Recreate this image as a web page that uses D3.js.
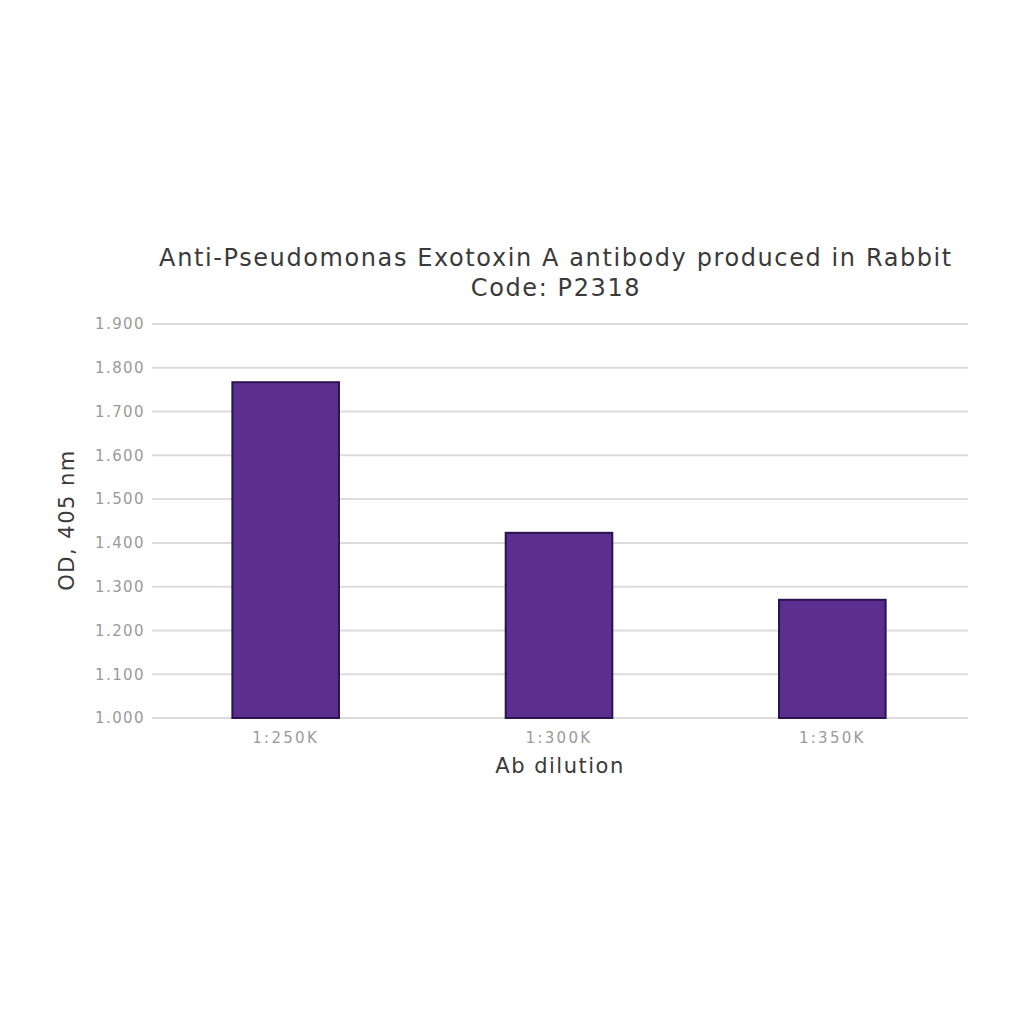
<!DOCTYPE html>
<html lang="en">
<head>
  <meta charset="UTF-8">
  <title>Anti-Pseudomonas Exotoxin A</title>
  <script src="https://d3js.org/d3.v7.min.js"></script>
  <style>
    html, body { width:100%; height:100%; margin:0; background:#fff; }
    svg { display:block; }
    .grid line { stroke:#dcdcdc; stroke-width:2px; }
    .tick text { font:15px "DejaVu Sans", sans-serif; fill:#9a9a9a; letter-spacing:1.4px; }
    .title { font:24px "DejaVu Sans", sans-serif; fill:#3a3a3a; letter-spacing:1.6px; }
    .axis-title { font:21px "DejaVu Sans", sans-serif; fill:#3a3a3a; letter-spacing:1.5px; }
  </style>
</head>
<body>
  <svg id="chart" width="1024" height="1024"></svg>
  <script>
    const categories = ["1:250K", "1:300K", "1:350K"];
    const values = [1.767, 1.423, 1.270];
    const yTicks = [1.0, 1.1, 1.2, 1.3, 1.4, 1.5, 1.6, 1.7, 1.8, 1.9];

    const svg = d3.select("#chart");
    const m = {left:149, right:969, top:324, bottom:718};

    const x = d3.scaleBand().domain(categories).range([m.left, m.right])
      .paddingInner(0.61).paddingOuter(0.305);
    const y = d3.scaleLinear().domain([1.0, 1.9]).range([m.bottom, m.top]);

    // gridlines
    svg.append("g").attr("class", "grid")
      .selectAll("line").data(yTicks).join("line")
        .attr("x1", 152).attr("x2", 968)
        .attr("y1", d => y(d)).attr("y2", d => y(d));

    // y axis labels
    const yAxis = svg.append("g")
      .attr("transform", `translate(${m.left},0)`)
      .call(d3.axisLeft(y).tickValues(yTicks).tickFormat(d3.format(".3f")).tickSize(0).tickPadding(4));
    yAxis.select(".domain").remove();

    // x axis labels
    const xAxis = svg.append("g")
      .attr("transform", `translate(0,${m.bottom})`)
      .call(d3.axisBottom(x).tickSize(0).tickPadding(14));
    xAxis.select(".domain").remove();
    xAxis.selectAll("text").style("letter-spacing", "2.3px");

    // bars
    svg.append("g").selectAll("rect").data(values).join("rect")
      .attr("x", (d, i) => x(categories[i]))
      .attr("width", x.bandwidth())
      .attr("y", d => y(d))
      .attr("height", d => y(1.0) - y(d))
      .attr("fill", "#5b2e8f")
      .attr("stroke", "#2a1350")
      .attr("stroke-width", 2);

    // titles
    svg.append("text").attr("class", "title").attr("text-anchor", "middle")
      .attr("x", 556).attr("y", 266)
      .text("Anti-Pseudomonas Exotoxin A antibody produced in Rabbit");
    svg.append("text").attr("class", "title").attr("text-anchor", "middle")
      .attr("x", 556).attr("y", 296)
      .text("Code: P2318");

    svg.append("text").attr("class", "axis-title").attr("text-anchor", "middle")
      .attr("x", 560).attr("y", 773)
      .text("Ab dilution");

    svg.append("text").attr("class", "axis-title").attr("text-anchor", "middle")
      .attr("transform", "translate(74,520) rotate(-90)")
      .text("OD, 405 nm");
  </script>
</body>
</html>
